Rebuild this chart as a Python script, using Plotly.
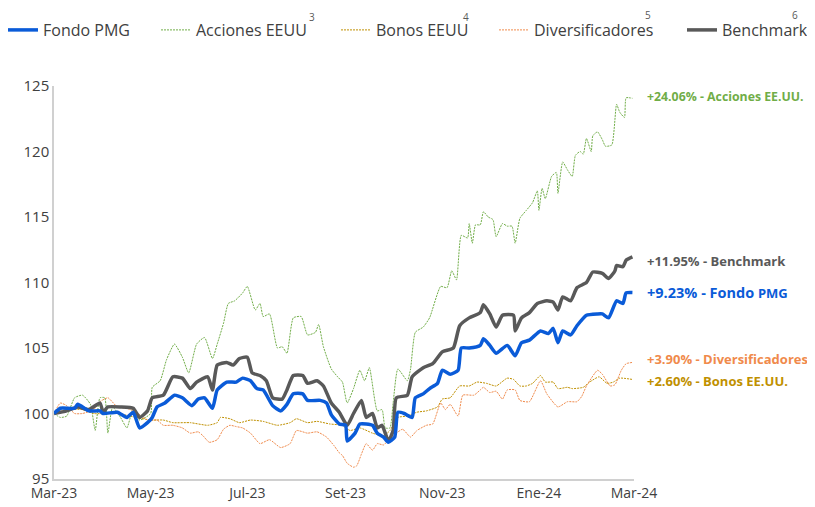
import pandas as pd
import plotly.graph_objects as go

START = pd.Timestamp("2023-03-01")

# ---- data (day offset from 2023-03-01, index value base 100) ----
fondo_days = [0, 4, 13, 15, 22, 29, 31, 40, 46, 50, 54, 59, 62, 65, 70, 76, 81, 87, 91, 95, 100, 103, 109, 115, 119, 124, 128, 132, 138, 143, 147, 151, 157, 160, 168, 172, 175, 180, 184, 185, 190, 193, 197, 201, 204, 208, 211, 215, 217, 221, 226, 228, 233, 237, 242, 245, 250, 255, 257, 262, 269, 271, 275, 279, 286, 291, 295, 300, 307, 312, 315, 318, 321, 326, 330, 336, 343, 346, 350, 355, 359, 361, 365]
fondo_vals = [100, 100.4, 100.4, 100.7, 100.2, 100.2, 100.0, 100.1, 99.7, 100.1, 98.9, 99.3, 99.7, 100.5, 100.8, 101.4, 101.2, 100.6, 101.1, 101.2, 100.4, 101.8, 102.4, 102.4, 102.7, 102.5, 101.9, 101.8, 100.6, 100.2, 100.7, 101.5, 101.5, 101.0, 101.0, 100.8, 99.9, 99.2, 99.1, 97.9, 98.5, 99.2, 99.2, 99.1, 98.5, 98.2, 97.8, 98.2, 100.1, 100.0, 99.7, 101.2, 101.5, 101.9, 102.3, 103.3, 103.0, 103.3, 105.0, 105.0, 105.2, 105.7, 105.2, 104.6, 105.2, 104.4, 105.4, 105.6, 106.3, 106.1, 106.5, 105.4, 106.3, 106.0, 106.7, 107.5, 107.6, 107.6, 107.3, 108.6, 108.4, 109.2, 109.23]

acciones_days = [0, 4, 8, 13, 18, 23, 26, 29, 32, 34, 37, 42, 46, 50, 54, 61, 62, 67, 71, 76, 81, 85, 90, 95, 100, 103, 107, 110, 114, 119, 122, 127, 130, 132, 136, 141, 144, 147, 151, 156, 160, 165, 167, 170, 175, 179, 182, 185, 189, 193, 196, 199, 204, 207, 209, 212, 214, 217, 223, 225, 228, 233, 237, 244, 248, 251, 254, 257, 261, 262, 264, 266, 269, 271, 274, 277, 279, 283, 286, 289, 291, 294, 298, 302, 305, 306, 308, 310, 314, 317, 318, 321, 324, 327, 329, 332, 334, 336, 339, 340, 343, 346, 348, 352, 355, 357, 360, 361, 365]
acciones_vals = [100, 99.7, 99.8, 101.2, 101.4, 100.7, 98.7, 101.2, 101.2, 98.5, 100.5, 99.7, 98.9, 100.4, 99.5, 100.0, 102.0, 102.5, 104.1, 105.3, 104.3, 103.1, 105.3, 105.8, 104.2, 105.3, 106.9, 108.4, 108.6, 109.2, 109.7, 107.9, 108.4, 107.4, 107.6, 105.0, 105.1, 104.6, 107.3, 107.4, 106.0, 106.2, 106.8, 105.1, 103.4, 102.8, 102.4, 100.8, 101.9, 103.3, 102.5, 103.5, 100.2, 100.3, 98.9, 98.9, 100.8, 103.4, 102.5, 103.4, 106.2, 106.6, 107.3, 109.7, 109.6, 110.9, 110.2, 113.6, 113.4, 114.5, 113.0, 114.4, 114.4, 115.4, 115.0, 114.8, 113.5, 114.5, 114.3, 114.3, 113.0, 114.9, 115.5, 116.1, 117.0, 115.5, 117.2, 116.4, 118.1, 118.4, 116.8, 119.2, 118.6, 118.1, 119.7, 120.0, 119.8, 121.0, 120.0, 121.2, 121.5, 120.9, 120.4, 120.5, 123.6, 123.0, 122.6, 124.1, 124.06]

bonos_days = [0, 8, 18, 25, 40, 52, 61, 69, 75, 86, 97, 103, 105, 111, 117, 124, 132, 141, 149, 153, 160, 166, 174, 182, 184, 187, 193, 201, 208, 212, 217, 223, 229, 235, 242, 245, 250, 256, 262, 267, 273, 279, 286, 290, 294, 298, 302, 307, 310, 315, 318, 324, 327, 334, 338, 344, 349, 353, 357, 365]
bonos_vals = [100, 100.3, 100.3, 100.0, 100.0, 99.7, 99.5, 99.5, 99.3, 99.3, 99.1, 99.3, 99.7, 99.6, 99.3, 99.5, 99.4, 99.1, 99.3, 99.6, 99.3, 99.4, 99.2, 99.1, 98.9, 98.7, 98.9, 98.5, 98.3, 98.7, 99.7, 99.8, 100.1, 100.2, 100.5, 101.1, 101.2, 102.1, 102.1, 102.4, 102.3, 102.1, 102.7, 102.6, 102.1, 102.1, 102.3, 102.9, 102.4, 102.4, 101.9, 102.0, 101.9, 102.0, 102.4, 102.8, 102.3, 102.4, 102.7, 102.6]

divers_days = [0, 4, 8, 13, 18, 25, 29, 34, 40, 46, 52, 59, 65, 69, 75, 81, 86, 91, 94, 98, 103, 107, 111, 115, 119, 124, 130, 136, 143, 149, 153, 160, 166, 172, 177, 180, 182, 185, 189, 191, 194, 197, 201, 204, 208, 212, 216, 220, 225, 229, 235, 239, 244, 247, 250, 255, 258, 265, 269, 271, 275, 279, 283, 286, 291, 294, 300, 307, 311, 318, 324, 330, 333, 336, 343, 346, 351, 354, 358, 361, 365]
divers_vals = [100, 100.8, 100.6, 100.0, 100.0, 100.3, 100.9, 101.2, 100.5, 100.4, 100.1, 99.5, 99.5, 99.1, 99.1, 98.9, 98.5, 98.6, 98.3, 97.8, 98.0, 98.8, 99.1, 99.0, 98.9, 98.5, 97.7, 98.0, 97.4, 97.7, 98.7, 98.5, 98.6, 98.2, 97.5, 97.0, 96.8, 96.2, 95.9, 96.0, 96.9, 97.7, 97.2, 97.7, 97.6, 98.1, 98.5, 98.8, 98.2, 98.7, 99.1, 99.2, 100.8, 100.3, 100.7, 99.8, 101.4, 101.4, 101.8, 102.0, 101.6, 101.7, 101.1, 101.8, 101.8, 101.0, 100.9, 102.5, 101.5, 100.5, 100.9, 100.9, 101.3, 102.1, 103.3, 103.0, 102.1, 102.2, 103.3, 103.8, 103.9]

bench_days = [0, 8, 15, 22, 29, 31, 34, 42, 50, 54, 59, 62, 69, 75, 81, 86, 90, 97, 100, 103, 109, 113, 117, 122, 125, 130, 134, 138, 144, 147, 151, 157, 160, 166, 170, 175, 180, 185, 189, 194, 197, 201, 204, 207, 211, 214, 216, 223, 226, 233, 239, 245, 252, 256, 262, 269, 271, 275, 279, 283, 290, 291, 295, 300, 305, 311, 315, 318, 321, 326, 330, 336, 340, 346, 350, 354, 355, 359, 361, 365]
bench_vals = [100, 100.2, 100.5, 100.3, 100.8, 100.1, 100.5, 100.5, 100.4, 99.7, 100.2, 101.2, 101.4, 102.8, 102.7, 101.9, 102.4, 102.8, 101.8, 103.7, 103.9, 103.7, 104.2, 104.3, 103.1, 102.9, 102.5, 101.2, 101.1, 101.8, 102.9, 102.9, 102.3, 102.5, 102.1, 100.8, 100.1, 99.1, 100.0, 101.0, 99.7, 100.0, 98.9, 99.1, 97.9, 98.7, 101.2, 101.4, 102.8, 103.5, 103.8, 104.7, 105.0, 106.7, 107.3, 107.7, 108.3, 107.6, 106.6, 107.5, 107.5, 106.3, 107.3, 107.7, 108.4, 108.6, 108.5, 107.9, 108.9, 108.6, 109.6, 110.0, 110.8, 110.7, 110.3, 110.9, 111.3, 111.2, 111.7, 111.95]

tick_dates = ["2023-03-01", "2023-05-01", "2023-07-01", "2023-09-01", "2023-11-01", "2024-01-01", "2024-03-01"]
tick_labels = ["Mar-23", "May-23", "Jul-23", "Set-23", "Nov-23", "Ene-24", "Mar-24"]

end_labels = ["+24.06% - Acciones EE.UU.", "+11.95% - Benchmark",
              "+9.23% - Fondo <span style='font-size:13px'>PMG</span>",
              "+3.90% - Diversificadores", "+2.60% - Bonos EE.UU."]
end_label_y = [124.18, 111.63, 109.26, 104.13, 102.45]
end_label_size = [12.3, 13, 14.5, 13, 13]

FONT = "Open Sans"
C_FONDO = "#0a5bd8"
C_ACC = "#70ad47"
C_BON = "#bf9000"
C_DIV = "#f08a4b"
C_BEN = "#595959"

# page body margin of the browser offsets the figure by 8px
OFF = 8
W, H = 815, 507
PW, PH = 580, 393
L, T = 54 - OFF, 86 - OFF
R, B = W - L - PW, H - T - PH


def to_dates(days):
    return START + pd.to_timedelta(days, unit="D")


def px_x(p):
    return (p - OFF - L) / PW


def px_y(p):
    return 1 + (T - (p - OFF)) / PH


fig = go.Figure()
# (name, days, values, color, width, dash, legend text start px)
series = [
    ("Acciones EEUU", acciones_days, acciones_vals, C_ACC, 1, "2px,1px", 196),
    ("Bonos EEUU", bonos_days, bonos_vals, C_BON, 1, "2px,1px", 376),
    ("Diversificadores", divers_days, divers_vals, C_DIV, 1, "2px,1px", 534),
    ("Benchmark", bench_days, bench_vals, C_BEN, 3.5, "solid", 722),
    ("Fondo PMG", fondo_days, fondo_vals, C_FONDO, 3.5, "solid", 43),
]
legend_layouts = {}
for i, (name, d, v, c, w, dash, lx) in enumerate(series):
    lname = "legend" if i == 0 else f"legend{i + 1}"
    fig.add_trace(go.Scatter(
        x=to_dates(d), y=v, name=name, mode="lines",
        line=dict(color=c, width=w, dash=dash, shape="spline", smoothing=0.5),
        legend=lname,
    ))
    legend_layouts[lname] = dict(
        orientation="h", x=px_x(lx - 40), xanchor="left", y=px_y(30), yanchor="middle",
        font=dict(family=FONT, size=16, color="#404040"), itemwidth=30,
        bgcolor="rgba(0,0,0,0)", borderwidth=0,
    )

label_colors = [C_ACC, C_BEN, C_FONDO, C_DIV, C_BON]
for txt, yv, col, sz in zip(end_labels, end_label_y, label_colors, end_label_size):
    fig.add_annotation(x=px_x(645), xref="paper", y=yv, yref="y", text=txt,
                       showarrow=False, xanchor="left", yanchor="middle",
                       font=dict(family=FONT, size=sz, color=col, weight="bold"))

sup_pos = [(312, 8, "3"), (466, 8, "4"), (648, 6, "5"), (795, 6, "6")]
for px, py, s in sup_pos:
    fig.add_annotation(x=px_x(px), xref="paper", y=px_y(py), yref="paper",
                       text=s, showarrow=False, xanchor="center", yanchor="top",
                       font=dict(family=FONT, size=10, color="#595959"))

fig.update_layout(
    width=W, height=H,
    margin=dict(l=L, r=R, t=T, b=B, autoexpand=False),
    paper_bgcolor="white", plot_bgcolor="white",
    font=dict(family=FONT, color="#404040"),
    showlegend=True,
    xaxis=dict(type="date", range=["2023-03-01", "2024-03-01"], tickvals=tick_dates, ticktext=tick_labels,
               showgrid=False, showline=True, linecolor="#d0d0d0", linewidth=1.5, ticks="",
               tickfont=dict(family=FONT, size=14, color="#404040"), zeroline=False),
    yaxis=dict(range=[95, 125], tickvals=[95, 100, 105, 110, 115, 120, 125], showgrid=False,
               showline=True, linecolor="#d0d0d0", linewidth=1.5, ticks="",
               tickfont=dict(family=FONT, size=15, color="#404040"), zeroline=False),
    hovermode=False,
    **legend_layouts,
)

fig.write_html("out.html")
